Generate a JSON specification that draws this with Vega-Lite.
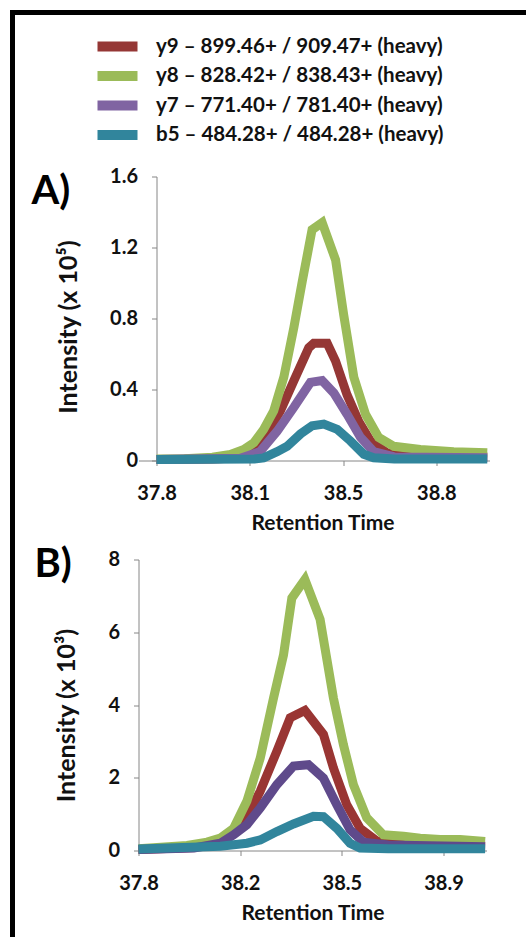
{
  "$schema": "https://vega.github.io/schema/vega-lite/v6.json",
  "background": "white",
  "padding": {"left": 9.5, "top": 9.5, "right": 0, "bottom": 0},
  "spacing": 11,
  "datasets": {
    "a": [
      {"series": "y9 – 899.46+ / 909.47+ (heavy)", "rt": 37.8, "v": 0.005},
      {"series": "y9 – 899.46+ / 909.47+ (heavy)", "rt": 38.0, "v": 0.008},
      {"series": "y9 – 899.46+ / 909.47+ (heavy)", "rt": 38.1, "v": 0.015},
      {"series": "y9 – 899.46+ / 909.47+ (heavy)", "rt": 38.148, "v": 0.05},
      {"series": "y9 – 899.46+ / 909.47+ (heavy)", "rt": 38.196, "v": 0.15},
      {"series": "y9 – 899.46+ / 909.47+ (heavy)", "rt": 38.243, "v": 0.28},
      {"series": "y9 – 899.46+ / 909.47+ (heavy)", "rt": 38.291, "v": 0.45},
      {"series": "y9 – 899.46+ / 909.47+ (heavy)", "rt": 38.344, "v": 0.635},
      {"series": "y9 – 899.46+ / 909.47+ (heavy)", "rt": 38.362, "v": 0.66},
      {"series": "y9 – 899.46+ / 909.47+ (heavy)", "rt": 38.41, "v": 0.66},
      {"series": "y9 – 899.46+ / 909.47+ (heavy)", "rt": 38.44, "v": 0.56},
      {"series": "y9 – 899.46+ / 909.47+ (heavy)", "rt": 38.481, "v": 0.37},
      {"series": "y9 – 899.46+ / 909.47+ (heavy)", "rt": 38.523, "v": 0.22},
      {"series": "y9 – 899.46+ / 909.47+ (heavy)", "rt": 38.565, "v": 0.11},
      {"series": "y9 – 899.46+ / 909.47+ (heavy)", "rt": 38.624, "v": 0.043},
      {"series": "y9 – 899.46+ / 909.47+ (heavy)", "rt": 38.7, "v": 0.025},
      {"series": "y9 – 899.46+ / 909.47+ (heavy)", "rt": 38.982, "v": 0.02},
      {"series": "y8 – 828.42+ / 838.43+ (heavy)", "rt": 37.8, "v": 0.008},
      {"series": "y8 – 828.42+ / 838.43+ (heavy)", "rt": 37.9, "v": 0.01},
      {"series": "y8 – 828.42+ / 838.43+ (heavy)", "rt": 38.0, "v": 0.018},
      {"series": "y8 – 828.42+ / 838.43+ (heavy)", "rt": 38.064, "v": 0.034},
      {"series": "y8 – 828.42+ / 838.43+ (heavy)", "rt": 38.112, "v": 0.062},
      {"series": "y8 – 828.42+ / 838.43+ (heavy)", "rt": 38.148, "v": 0.1},
      {"series": "y8 – 828.42+ / 838.43+ (heavy)", "rt": 38.183, "v": 0.175},
      {"series": "y8 – 828.42+ / 838.43+ (heavy)", "rt": 38.219, "v": 0.28},
      {"series": "y8 – 828.42+ / 838.43+ (heavy)", "rt": 38.255, "v": 0.47},
      {"series": "y8 – 828.42+ / 838.43+ (heavy)", "rt": 38.291, "v": 0.75},
      {"series": "y8 – 828.42+ / 838.43+ (heavy)", "rt": 38.321, "v": 1.01},
      {"series": "y8 – 828.42+ / 838.43+ (heavy)", "rt": 38.356, "v": 1.3},
      {"series": "y8 – 828.42+ / 838.43+ (heavy)", "rt": 38.392, "v": 1.34},
      {"series": "y8 – 828.42+ / 838.43+ (heavy)", "rt": 38.44, "v": 1.13},
      {"series": "y8 – 828.42+ / 838.43+ (heavy)", "rt": 38.469, "v": 0.82},
      {"series": "y8 – 828.42+ / 838.43+ (heavy)", "rt": 38.505, "v": 0.47},
      {"series": "y8 – 828.42+ / 838.43+ (heavy)", "rt": 38.547, "v": 0.26},
      {"series": "y8 – 828.42+ / 838.43+ (heavy)", "rt": 38.594, "v": 0.13},
      {"series": "y8 – 828.42+ / 838.43+ (heavy)", "rt": 38.648, "v": 0.08},
      {"series": "y8 – 828.42+ / 838.43+ (heavy)", "rt": 38.743, "v": 0.062},
      {"series": "y8 – 828.42+ / 838.43+ (heavy)", "rt": 38.862, "v": 0.049},
      {"series": "y8 – 828.42+ / 838.43+ (heavy)", "rt": 38.982, "v": 0.043},
      {"series": "y7 – 771.40+ / 781.40+ (heavy)", "rt": 37.8, "v": 0.005},
      {"series": "y7 – 771.40+ / 781.40+ (heavy)", "rt": 38.1, "v": 0.012},
      {"series": "y7 – 771.40+ / 781.40+ (heavy)", "rt": 38.17, "v": 0.05},
      {"series": "y7 – 771.40+ / 781.40+ (heavy)", "rt": 38.231, "v": 0.165},
      {"series": "y7 – 771.40+ / 781.40+ (heavy)", "rt": 38.291, "v": 0.3},
      {"series": "y7 – 771.40+ / 781.40+ (heavy)", "rt": 38.35, "v": 0.44},
      {"series": "y7 – 771.40+ / 781.40+ (heavy)", "rt": 38.392, "v": 0.45},
      {"series": "y7 – 771.40+ / 781.40+ (heavy)", "rt": 38.434, "v": 0.38},
      {"series": "y7 – 771.40+ / 781.40+ (heavy)", "rt": 38.481, "v": 0.26},
      {"series": "y7 – 771.40+ / 781.40+ (heavy)", "rt": 38.529, "v": 0.13},
      {"series": "y7 – 771.40+ / 781.40+ (heavy)", "rt": 38.576, "v": 0.05},
      {"series": "y7 – 771.40+ / 781.40+ (heavy)", "rt": 38.65, "v": 0.02},
      {"series": "y7 – 771.40+ / 781.40+ (heavy)", "rt": 38.982, "v": 0.015},
      {"series": "b5 – 484.28+ / 484.28+ (heavy)", "rt": 37.8, "v": 0.005},
      {"series": "b5 – 484.28+ / 484.28+ (heavy)", "rt": 38.15, "v": 0.008},
      {"series": "b5 – 484.28+ / 484.28+ (heavy)", "rt": 38.183, "v": 0.015},
      {"series": "b5 – 484.28+ / 484.28+ (heavy)", "rt": 38.231, "v": 0.05},
      {"series": "b5 – 484.28+ / 484.28+ (heavy)", "rt": 38.267, "v": 0.08},
      {"series": "b5 – 484.28+ / 484.28+ (heavy)", "rt": 38.315, "v": 0.15},
      {"series": "b5 – 484.28+ / 484.28+ (heavy)", "rt": 38.356, "v": 0.195},
      {"series": "b5 – 484.28+ / 484.28+ (heavy)", "rt": 38.398, "v": 0.205},
      {"series": "b5 – 484.28+ / 484.28+ (heavy)", "rt": 38.446, "v": 0.175},
      {"series": "b5 – 484.28+ / 484.28+ (heavy)", "rt": 38.493, "v": 0.11},
      {"series": "b5 – 484.28+ / 484.28+ (heavy)", "rt": 38.541, "v": 0.035},
      {"series": "b5 – 484.28+ / 484.28+ (heavy)", "rt": 38.576, "v": 0.015},
      {"series": "b5 – 484.28+ / 484.28+ (heavy)", "rt": 38.65, "v": 0.008},
      {"series": "b5 – 484.28+ / 484.28+ (heavy)", "rt": 38.982, "v": 0.008}
    ],
    "b": [
      {"series": "y9 – 899.46+ / 909.47+ (heavy)", "rt": 37.8, "v": 0.03},
      {"series": "y9 – 899.46+ / 909.47+ (heavy)", "rt": 38.0, "v": 0.08},
      {"series": "y9 – 899.46+ / 909.47+ (heavy)", "rt": 38.1, "v": 0.25},
      {"series": "y9 – 899.46+ / 909.47+ (heavy)", "rt": 38.131, "v": 0.44},
      {"series": "y9 – 899.46+ / 909.47+ (heavy)", "rt": 38.191, "v": 0.9},
      {"series": "y9 – 899.46+ / 909.47+ (heavy)", "rt": 38.239, "v": 1.63},
      {"series": "y9 – 899.46+ / 909.47+ (heavy)", "rt": 38.299, "v": 2.73},
      {"series": "y9 – 899.46+ / 909.47+ (heavy)", "rt": 38.347, "v": 3.65},
      {"series": "y9 – 899.46+ / 909.47+ (heavy)", "rt": 38.4, "v": 3.85},
      {"series": "y9 – 899.46+ / 909.47+ (heavy)", "rt": 38.467, "v": 3.19},
      {"series": "y9 – 899.46+ / 909.47+ (heavy)", "rt": 38.503, "v": 2.27},
      {"series": "y9 – 899.46+ / 909.47+ (heavy)", "rt": 38.551, "v": 1.26},
      {"series": "y9 – 899.46+ / 909.47+ (heavy)", "rt": 38.599, "v": 0.61},
      {"series": "y9 – 899.46+ / 909.47+ (heavy)", "rt": 38.66, "v": 0.26},
      {"series": "y9 – 899.46+ / 909.47+ (heavy)", "rt": 38.75, "v": 0.18},
      {"series": "y9 – 899.46+ / 909.47+ (heavy)", "rt": 39.05, "v": 0.12},
      {"series": "y8 – 828.42+ / 838.43+ (heavy)", "rt": 37.8, "v": 0.05},
      {"series": "y8 – 828.42+ / 838.43+ (heavy)", "rt": 37.975, "v": 0.14},
      {"series": "y8 – 828.42+ / 838.43+ (heavy)", "rt": 38.047, "v": 0.23},
      {"series": "y8 – 828.42+ / 838.43+ (heavy)", "rt": 38.095, "v": 0.34},
      {"series": "y8 – 828.42+ / 838.43+ (heavy)", "rt": 38.143, "v": 0.61},
      {"series": "y8 – 828.42+ / 838.43+ (heavy)", "rt": 38.191, "v": 1.36},
      {"series": "y8 – 828.42+ / 838.43+ (heavy)", "rt": 38.239, "v": 2.54},
      {"series": "y8 – 828.42+ / 838.43+ (heavy)", "rt": 38.287, "v": 4.19},
      {"series": "y8 – 828.42+ / 838.43+ (heavy)", "rt": 38.323, "v": 5.38},
      {"series": "y8 – 828.42+ / 838.43+ (heavy)", "rt": 38.353, "v": 6.94},
      {"series": "y8 – 828.42+ / 838.43+ (heavy)", "rt": 38.4, "v": 7.45},
      {"series": "y8 – 828.42+ / 838.43+ (heavy)", "rt": 38.455, "v": 6.35},
      {"series": "y8 – 828.42+ / 838.43+ (heavy)", "rt": 38.503, "v": 4.19},
      {"series": "y8 – 828.42+ / 838.43+ (heavy)", "rt": 38.539, "v": 2.91},
      {"series": "y8 – 828.42+ / 838.43+ (heavy)", "rt": 38.575, "v": 1.81},
      {"series": "y8 – 828.42+ / 838.43+ (heavy)", "rt": 38.623, "v": 0.9},
      {"series": "y8 – 828.42+ / 838.43+ (heavy)", "rt": 38.683, "v": 0.43},
      {"series": "y8 – 828.42+ / 838.43+ (heavy)", "rt": 38.756, "v": 0.39},
      {"series": "y8 – 828.42+ / 838.43+ (heavy)", "rt": 38.816, "v": 0.34},
      {"series": "y8 – 828.42+ / 838.43+ (heavy)", "rt": 38.888, "v": 0.3},
      {"series": "y8 – 828.42+ / 838.43+ (heavy)", "rt": 38.96, "v": 0.3},
      {"series": "y8 – 828.42+ / 838.43+ (heavy)", "rt": 39.05, "v": 0.25},
      {"series": "y7 – 771.40+ / 781.40+ (heavy)", "rt": 37.8, "v": 0.03},
      {"series": "y7 – 771.40+ / 781.40+ (heavy)", "rt": 38.0, "v": 0.07},
      {"series": "y7 – 771.40+ / 781.40+ (heavy)", "rt": 38.095, "v": 0.2},
      {"series": "y7 – 771.40+ / 781.40+ (heavy)", "rt": 38.143, "v": 0.43},
      {"series": "y7 – 771.40+ / 781.40+ (heavy)", "rt": 38.191, "v": 0.71},
      {"series": "y7 – 771.40+ / 781.40+ (heavy)", "rt": 38.239, "v": 1.17},
      {"series": "y7 – 771.40+ / 781.40+ (heavy)", "rt": 38.299, "v": 1.81},
      {"series": "y7 – 771.40+ / 781.40+ (heavy)", "rt": 38.359, "v": 2.32},
      {"series": "y7 – 771.40+ / 781.40+ (heavy)", "rt": 38.413, "v": 2.36},
      {"series": "y7 – 771.40+ / 781.40+ (heavy)", "rt": 38.467, "v": 1.99},
      {"series": "y7 – 771.40+ / 781.40+ (heavy)", "rt": 38.515, "v": 1.26},
      {"series": "y7 – 771.40+ / 781.40+ (heavy)", "rt": 38.563, "v": 0.57},
      {"series": "y7 – 771.40+ / 781.40+ (heavy)", "rt": 38.611, "v": 0.23},
      {"series": "y7 – 771.40+ / 781.40+ (heavy)", "rt": 38.7, "v": 0.15},
      {"series": "y7 – 771.40+ / 781.40+ (heavy)", "rt": 39.05, "v": 0.1},
      {"series": "b5 – 484.28+ / 484.28+ (heavy)", "rt": 37.8, "v": 0.04},
      {"series": "b5 – 484.28+ / 484.28+ (heavy)", "rt": 38.095, "v": 0.12},
      {"series": "b5 – 484.28+ / 484.28+ (heavy)", "rt": 38.191, "v": 0.2},
      {"series": "b5 – 484.28+ / 484.28+ (heavy)", "rt": 38.239, "v": 0.29},
      {"series": "b5 – 484.28+ / 484.28+ (heavy)", "rt": 38.299, "v": 0.52},
      {"series": "b5 – 484.28+ / 484.28+ (heavy)", "rt": 38.359, "v": 0.73},
      {"series": "b5 – 484.28+ / 484.28+ (heavy)", "rt": 38.431, "v": 0.94},
      {"series": "b5 – 484.28+ / 484.28+ (heavy)", "rt": 38.467, "v": 0.93},
      {"series": "b5 – 484.28+ / 484.28+ (heavy)", "rt": 38.515, "v": 0.61},
      {"series": "b5 – 484.28+ / 484.28+ (heavy)", "rt": 38.563, "v": 0.2},
      {"series": "b5 – 484.28+ / 484.28+ (heavy)", "rt": 38.599, "v": 0.07},
      {"series": "b5 – 484.28+ / 484.28+ (heavy)", "rt": 38.7, "v": 0.05},
      {"series": "b5 – 484.28+ / 484.28+ (heavy)", "rt": 39.05, "v": 0.05}
    ]
  },
  "vconcat": [
    {
      "width": 351,
      "height": 284,
      "title": {"text": "A)", "orient": "none", "anchor": "start", "frame": "group", "font": "Lato", "fontSize": 40, "fontWeight": "bold", "color": "#000", "dx": -107, "dy": -4.5},
      "data": {"name": "a"},
      "mark": {"type": "line", "strokeWidth": 9},
      "encoding": {
        "x": {"field": "rt", "type": "quantitative", "scale": {"domain": [37.7357, 38.99], "nice": false, "zero": false},
              "axis": {"values": [37.8, 38.1333, 38.4667, 38.8], "format": ".1f", "title": "Retention Time", "titleX": 184}},
        "y": {"field": "v", "type": "quantitative", "scale": {"domain": [0, 1.6], "nice": false},
              "axis": {"values": [0, 0.4, 0.8, 1.2, 1.6], "format": "~g", "title": "Intensity (x 10⁵)", "offset": -18, "titleY": 150}},
        "color": {"field": "series", "type": "nominal",
                  "scale": {"domain": ["y9 – 899.46+ / 909.47+ (heavy)", "y8 – 828.42+ / 838.43+ (heavy)", "y7 – 771.40+ / 781.40+ (heavy)", "b5 – 484.28+ / 484.28+ (heavy)"],
                            "range": ["#953735", "#9BBB59", "#8064A2", "#31859C"]},
                  "legend": {"orient": "none", "legendX": -126, "legendY": -164, "direction": "vertical",
                             "title": "\u00a0\u00a0",
                             "titleOrient": "right", "titleFont": "DejaVu Sans", "titleFontSize": 1000, "titlePadding": 150, "titleAnchor": "start", "titleLimit": 5000,
                             "strokeColor": "#000", "padding": 24,
                             "symbolType": "stroke", "symbolSize": 1600, "symbolStrokeWidth": 10, "symbolOffset": 56,
                             "labelOffset": 13.5, "labelFont": "Lato", "labelFontSize": 20.5, "labelFontWeight": "bold", "labelColor": "#111", "labelLimit": 600,
                             "clipHeight": 20, "rowPadding": 8.5}}
      }
    },
    {
      "width": 348,
      "height": 291,
      "title": {"text": "B)", "orient": "none", "anchor": "start", "frame": "group", "font": "Lato", "fontSize": 40, "fontWeight": "bold", "color": "#000", "dx": -104, "dy": -15},
      "data": {"name": "b"},
      "mark": {"type": "line", "strokeWidth": 9},
      "encoding": {
        "x": {"field": "rt", "type": "quantitative", "scale": {"domain": [37.8, 39.055], "nice": false, "zero": false},
              "axis": {"values": [37.8, 38.1667, 38.5333, 38.9], "format": ".1f", "title": "Retention Time"}},
        "y": {"field": "v", "type": "quantitative", "scale": {"domain": [0, 8], "nice": false},
              "axis": {"values": [0, 2, 4, 6, 8], "format": "~g", "title": "Intensity (x 10³)", "titleY": 155.5}},
        "stroke": {"field": "series", "type": "nominal",
                   "scale": {"domain": ["y9 – 899.46+ / 909.47+ (heavy)", "y8 – 828.42+ / 838.43+ (heavy)", "y7 – 771.40+ / 781.40+ (heavy)", "b5 – 484.28+ / 484.28+ (heavy)"],
                             "range": ["#993533", "#9BBB59", "#5F4A8B", "#31859C"]},
                   "legend": null}
      }
    }
  ],
  "config": {
    "view": {"stroke": null},
    "font": "Lato",
    "legend": {"strokeWidth": 5},
    "axis": {
      "domainColor": "#868686", "tickColor": "#868686", "tickSize": 5, "grid": false,
      "labelFont": "Lato", "labelFontSize": 20, "labelFontWeight": "bold", "labelColor": "#111",
      "labelFlush": false, "labelOverlap": false, "labelBound": false,
      "titleFont": "Lato", "titleFontWeight": "bold", "titleColor": "#111"
    },
    "axisY": {"labelPadding": 14, "titlePadding": 28, "titleFontSize": 25},
    "axisX": {"labelPadding": 18, "titlePadding": 9, "titleFontSize": 21}
  }
}
